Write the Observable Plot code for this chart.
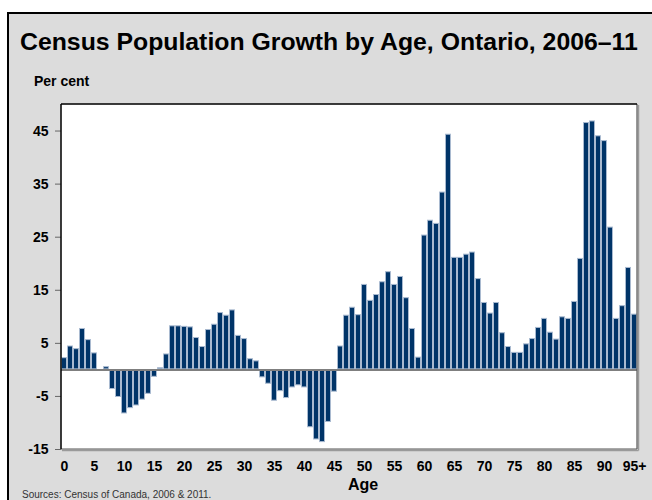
<!DOCTYPE html>
<html><head><meta charset="utf-8">
<script src="https://cdn.jsdelivr.net/npm/d3@7"></script>
<script src="https://cdn.jsdelivr.net/npm/@observablehq/plot@0.6"></script>
<style>
html,body{margin:0;padding:0;width:652px;height:500px;overflow:hidden;background:#fff;font-family:"Liberation Sans",Arial,sans-serif;}
#panel{position:absolute;left:7px;top:12px;width:720px;height:540px;background:#dcdcdc;border-left:2px solid #000;border-top:2px solid #000;}
#title{position:absolute;left:20px;top:28px;font-size:24.8px;font-weight:bold;white-space:nowrap;color:#000;}
#unit{position:absolute;left:34px;top:73px;font-size:14px;font-weight:bold;color:#000;}
#chart{position:absolute;left:0;top:94px;}
#xlabel{position:absolute;left:363px;top:476px;transform:translateX(-50%);font-size:16px;font-weight:bold;color:#000;}
#source{position:absolute;left:22px;top:489px;font-size:10px;color:#333;white-space:nowrap;}
</style>
</head><body>
<div id="panel"></div>
<div id="title">Census Population Growth by Age, Ontario, 2006–11</div>
<div id="unit">Per cent</div>
<div id="chart"></div>
<div id="xlabel">Age</div>
<div id="source">Sources: Census of Canada, 2006 &amp; 2011.</div>
<script>
const ages = ["0","1","2","3","4","5","6","7","8","9",
  "10","11","12","13","14","15","16","17","18","19",
  "20","21","22","23","24","25","26","27","28","29",
  "30","31","32","33","34","35","36","37","38","39",
  "40","41","42","43","44","45","46","47","48","49",
  "50","51","52","53","54","55","56","57","58","59",
  "60","61","62","63","64","65","66","67","68","69",
  "70","71","72","73","74","75","76","77","78","79",
  "80","81","82","83","84","85","86","87","88","89",
  "90","91","92","93","94","95+"];
const growth = [2.3,4.5,4.0,7.8,5.7,3.2,-0.1,0.6,-3.7,-5.2,
  -8.3,-7.3,-6.8,-5.7,-4.6,-1.4,0.4,3.0,8.3,8.3,
  8.2,8.1,6.1,4.4,7.6,8.6,10.8,10.3,11.3,6.5,
  5.9,2.1,1.7,-1.5,-2.7,-5.9,-4.1,-5.4,-3.4,-3.0,
  -3.4,-10.9,-13.2,-13.7,-9.9,-4.2,4.5,10.3,11.8,10.4,
  16.1,13.1,14.2,16.6,18.5,16.1,17.6,13.6,7.8,2.4,
  25.4,28.2,27.6,33.5,44.4,21.2,21.2,21.8,22.2,17.2,
  12.7,10.7,12.7,7.0,4.4,3.3,3.3,4.9,5.9,8.0,
  9.7,7.1,5.8,10.0,9.7,12.9,21.0,46.6,46.9,44.1,
  43.2,26.9,9.7,12.1,19.3,10.5];
const xTicks = ["0","5","10","15","20","25","30","35","40","45","50","55","60","65","70","75","80","85","90","95+"];
const yTicks = [-15,-5,5,15,25,35,45];

const data = ages.map((a, i) => ({age: a, value: growth[i]}));

function frameMark(index, scales, values, dimensions) {
  const {width, height, marginLeft, marginRight, marginTop, marginBottom} = dimensions;
  const x0 = marginLeft, x1 = width - marginRight, y0 = marginTop, y1 = height - marginBottom;
  const g = d3.create("svg:g").attr("fill", "none");
  g.append("line").attr("x1", x1 + 1.5).attr("x2", x1 + 1.5).attr("y1", y0 + 1).attr("y2", y1 + 1.5).attr("stroke", "#9a9a9a").attr("stroke-width", 1.5);
  g.append("line").attr("x1", x0 + 1).attr("x2", x1 + 1.5).attr("y1", y1 + 1.5).attr("y2", y1 + 1.5).attr("stroke", "#9a9a9a").attr("stroke-width", 1.5);
  g.append("line").attr("x1", x1).attr("x2", x1).attr("y1", y0).attr("y2", y1).attr("stroke", "#555").attr("stroke-width", 1.2);
  g.append("line").attr("x1", x0).attr("x2", x1).attr("y1", y1).attr("y2", y1).attr("stroke", "#555").attr("stroke-width", 1.2);
  g.append("line").attr("x1", x0).attr("x2", x1).attr("y1", y0).attr("y2", y0).attr("stroke", "#000").attr("stroke-width", 1.5);
  g.append("line").attr("x1", x0).attr("x2", x0).attr("y1", y0).attr("y2", y1).attr("stroke", "#000").attr("stroke-width", 1.5);
  return g.node();
}

const chart = Plot.plot({
  width: 652, height: 380,
  marginLeft: 61, marginRight: 15, marginTop: 10, marginBottom: 25,
  style: {background: "transparent", fontFamily: "'Liberation Sans', Arial, sans-serif", fontSize: "14px", fontWeight: "bold", color: "#000", overflow: "visible"},
  x: {type: "band", domain: ages, padding: 0, label: null},
  y: {domain: [-15, 50], label: null},
  marks: [
    Plot.frame({fill: "white", stroke: null}),
    Plot.barY(data, {x: "age", y: "value", fill: "#003468", stroke: "#a9bad0", strokeWidth: 1, inset: 0.5}),
    Plot.ruleY([0], {stroke: "#7f7f7f", strokeWidth: 2}),
    Plot.axisY(yTicks, {tickSize: 6, tickPadding: 7, stroke: "#666", tickFormat: d => String(d), label: null}),
    Plot.axisX(xTicks, {tickSize: 0, tickPadding: 12, tickFormat: d => d, label: null}),
    frameMark
  ]
});
document.getElementById("chart").appendChild(chart);
</script>
</body></html>
